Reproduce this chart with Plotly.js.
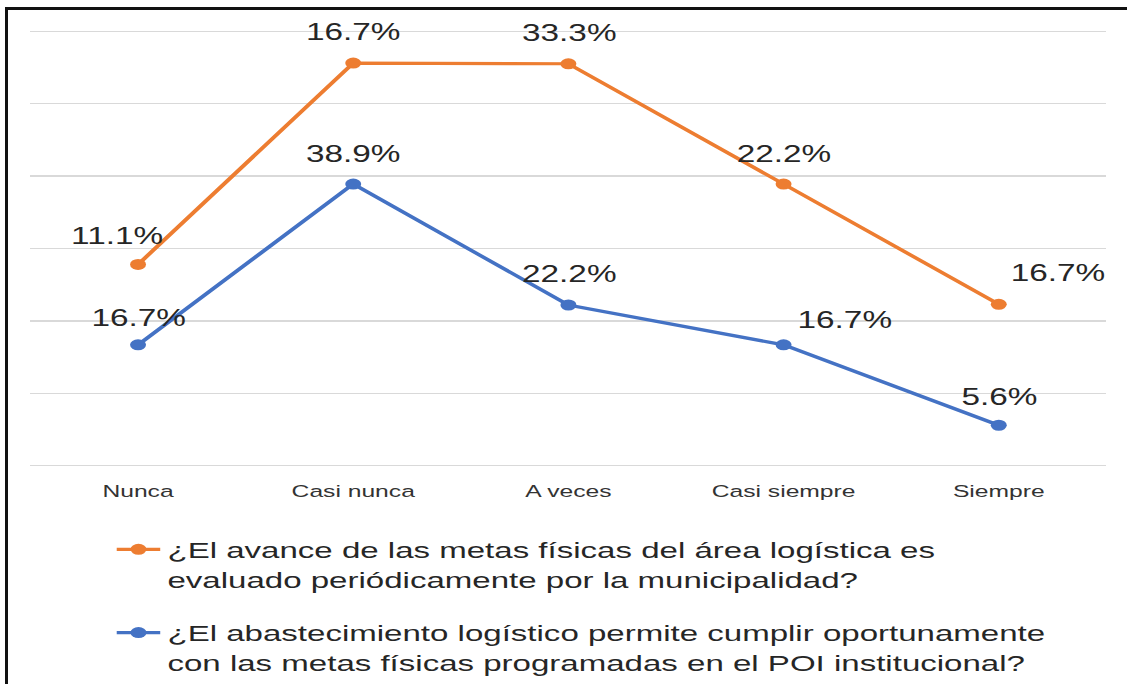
<!DOCTYPE html>
<html>
<head>
<meta charset="utf-8">
<script src="https://cdn.plot.ly/plotly-3.0.1.min.js"></script>
<style>
  html, body { margin: 0; padding: 0; background: #ffffff; overflow: hidden; }
  #wrap { position: relative; width: 1127px; height: 684px; overflow: hidden; background: #fff; }
  #plot { position: absolute; left: 0; top: 0; width: 777px; height: 684px;
          transform: scaleX(1.45); transform-origin: 0 0; }
  #frame { position: absolute; left: 5px; top: 7px; width: 1300px; height: 900px;
           border: 3px solid #111; pointer-events: none; }
</style>
</head>
<body>
<div id="wrap">
  <div id="plot"></div>
  <div id="frame"></div>
</div>
<script>
// ---- data ----
const categories = ["Nunca", "Casi nunca", "A veces", "Casi siempre", "Siempre"];
const seriesAvanceName = "¿El avance de las metas físicas del área logística es<br>evaluado periódicamente por la municipalidad?";
const seriesAvance = [11.1, 16.7, 33.3, 22.2, 16.7];
const seriesAbastName = "¿El abastecimiento logístico permite cumplir oportunamente<br>con las metas físicas programadas en el POI institucional?";
const seriesAbast = [16.7, 38.9, 22.2, 16.7, 5.6];

// ---- label placement (layout, not data) ----
const avanceLabelShift = [[-14.5, 28], [0, 31], [0, 31], [0, 30], [41, 31]];
const abastLabelShift = [[0, 27], [0, 30], [0, 31], [42, 25], [0, 28]];

const ORANGE = "#ED7D31", BLUE = "#4472C4";
const FONT = "Liberation Sans, Arial, sans-serif";
const LABEL_FONT = {family: FONT, size: 23, color: "#262626"};

const traces = [
  {
    x: categories, y: seriesAbast, name: seriesAbastName,
    type: "scatter", mode: "lines+markers", stackgroup: "s", fill: "none",
    line: {color: BLUE, width: 3.2}, marker: {color: BLUE, size: 11},
    legendgroup: "b", legendrank: 2, cliponaxis: false, hoverinfo: "skip"
  },
  {
    x: categories, y: seriesAvance, name: seriesAvanceName,
    type: "scatter", mode: "lines+markers", stackgroup: "s", fill: "none",
    line: {color: ORANGE, width: 3.2}, marker: {color: ORANGE, size: 11},
    legendgroup: "a", legendrank: 1, cliponaxis: false, hoverinfo: "skip"
  }
];

const annotations = [];
categories.forEach((c, i) => {
  annotations.push({
    x: c, y: seriesAbast[i], xref: "x", yref: "y", showarrow: false,
    text: seriesAbast[i].toFixed(1) + "%",
    xshift: abastLabelShift[i][0], yshift: abastLabelShift[i][1],
    font: LABEL_FONT
  });
  annotations.push({
    x: c, y: seriesAbast[i] + seriesAvance[i], xref: "x", yref: "y", showarrow: false,
    text: seriesAvance[i].toFixed(1) + "%",
    xshift: avanceLabelShift[i][0], yshift: avanceLabelShift[i][1],
    font: LABEL_FONT
  });
});

const layout = {
  width: 777, height: 684, autosize: false,
  paper_bgcolor: "rgba(0,0,0,0)", plot_bgcolor: "#ffffff",
  margin: {l: 21.4, r: 13.6, t: 28.8, b: 215.8, pad: 0, autoexpand: false},
  font: {family: FONT, color: "#404040"},
  xaxis: {
    type: "category", range: [-0.5, 4.5], showgrid: false, zeroline: false,
    showline: false, ticks: "", tickangle: 0, automargin: false,
    ticklabelstandoff: 11,
    tickfont: {family: FONT, size: 17, color: "#333333"},
    fixedrange: true
  },
  yaxis: {
    range: [-0.3, 60.3], dtick: 10, tick0: 0, showgrid: true, gridcolor: "#d9d9d9",
    gridwidth: 1.3, zeroline: false, showline: false, showticklabels: false, ticks: "",
    automargin: false, fixedrange: true
  },
  showlegend: true,
  legend: {
    xref: "container", yref: "container",
    x: 75.5 / 777, y: 1 - 528 / 684, xanchor: "left", yanchor: "top",
    font: {family: FONT, size: 22.8, color: "#262626"},
    tracegroupgap: 21, valign: "top", bgcolor: "rgba(0,0,0,0)", borderwidth: 0
  },
  annotations: annotations
};

Plotly.newPlot("plot", traces, layout, {displayModeBar: false, staticPlot: true});
</script>
</body>
</html>
